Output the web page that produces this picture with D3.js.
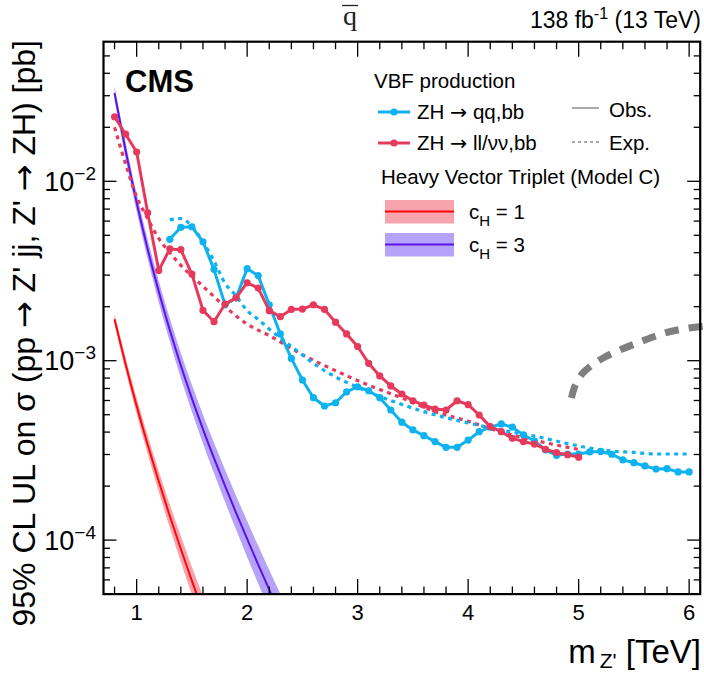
<!DOCTYPE html>
<html><head><meta charset="utf-8">
<script src="https://cdn.jsdelivr.net/npm/d3@7"></script>
<style>body{margin:0;background:#fff} svg{display:block}</style>
</head><body>
<svg id="c" width="704" height="675"></svg>
<script>
// ---- data ----
const massQQ = [1.3,1.4,1.5,1.6,1.7,1.8,1.9,2.0,2.1,2.2,2.3,2.4,2.5,2.6,2.7,2.8,2.9,3.0,3.1,3.2,3.3,3.4,3.5,3.6,3.7,3.8,3.9,4.0,4.1,4.2,4.3,4.4,4.5,4.6,4.7,4.8,4.9,5.0,5.1,5.2,5.3,5.4,5.5,5.6,5.7,5.8,5.9,6.0];
const obsQQ = [0.00475,0.00554,0.00558,0.00460,0.00323,0.00205,0.00224,0.00326,0.00298,0.00205,0.00141,0.00103,0.00078,0.000622,0.000559,0.000583,0.000671,0.000716,0.000680,0.000622,0.000531,0.000454,0.000411,0.000382,0.000354,0.000329,0.000329,0.000361,0.000402,0.000426,0.000444,0.000426,0.000386,0.000357,0.000318,0.000297,0.000302,0.000302,0.000310,0.000312,0.000301,0.000280,0.000270,0.000259,0.000249,0.000250,0.000240,0.000240];
const massLL = [0.8,0.9,1.0,1.1,1.2,1.3,1.4,1.5,1.6,1.7,1.8,1.9,2.0,2.1,2.2,2.3,2.4,2.5,2.6,2.7,2.8,2.9,3.0,3.1,3.2,3.3,3.4,3.5,3.6,3.7,3.8,3.9,4.0,4.1,4.2,4.3,4.4,4.5,4.6,4.7,4.8,4.9,5.0];
const obsLL = [0.0229,0.0183,0.01456,0.00668,0.00318,0.00420,0.00416,0.00304,0.00191,0.00165,0.00207,0.00224,0.00272,0.00254,0.00190,0.00176,0.00193,0.00194,0.00205,0.00193,0.00164,0.00141,0.00120,0.000967,0.000822,0.000723,0.000652,0.000598,0.000566,0.000538,0.000531,0.000598,0.000569,0.000498,0.000429,0.000402,0.000369,0.000354,0.000343,0.000321,0.000307,0.000299,0.000290];
const expQQMass = [1.3,1.4,1.5,1.6,1.7,1.8,1.9,2.0,2.1,2.2,2.4,2.7,3.0,3.3,3.6,4.0,4.3,4.6,4.9,5.2,5.5,5.7,6.0];
const expQQ = [0.0061,0.0062,0.0056,0.0046,0.0036,0.0027,0.0023,0.0019,0.0017,0.00150,0.00120,0.00088,0.00071,0.00060,0.00052,0.00045,0.00041,0.00038,0.000345,0.000318,0.000308,0.000302,0.000302];
const expLLMass = [0.8,0.9,1.0,1.1,1.2,1.3,1.4,1.6,1.8,2.0,2.2,2.5,2.8,3.1,3.4,3.7,4.0,4.3,4.6,5.0];
const expLL = [0.0200,0.0125,0.0082,0.0062,0.0048,0.0040,0.0034,0.0026,0.0020,0.0016,0.00138,0.00108,0.00088,0.00073,0.00062,0.00052,0.00046,0.00040,0.00036,0.00032];
const hvt3Mass = [0.8,0.9,1.0,1.1,1.2,1.3,1.4,1.5,1.6,1.7,1.8,1.9,2.0,2.1,2.2,2.3];
const hvt3 = [0.031,0.01484,0.00761,0.00418,0.002434,0.001484,0.00094,0.000617,0.000416,0.0002866,0.0002006,0.000142,0.0001015,7.3e-5,5.29e-5,3.85e-5];
const hvt3Hi = [0.03398,0.01646,0.00854,0.004744,0.002794,0.001723,0.001105,0.000734,0.0005,0.0003485,0.0002467,0.0001768,0.0001278,9.3e-5,6.81e-5,5.02e-5];
const hvt3Lo = [0.02828,0.01338,0.006783,0.003683,0.00212,0.001278,0.0008,0.000519,0.000346,0.0002357,0.0001631,0.0001141,8.06e-5,5.73e-5,4.11e-5,2.95e-5];
const hvt1Mass = [0.8,0.9,1.0,1.1,1.2,1.3,1.4,1.5,1.6,1.7];
const hvt1 = [1.70e-3,9.56e-4,5.60e-4,3.40e-4,2.126e-4,1.362e-4,8.92e-5,5.93e-5,4.0e-5,2.73e-5];
const hvt1Hi = [1.822e-3,1.041e-3,6.20e-4,3.825e-4,2.43e-4,1.581e-4,1.053e-4,7.11e-5,4.88e-5,3.38e-5];
const hvt1Lo = [1.586e-3,8.78e-4,5.06e-4,3.022e-4,1.86e-4,1.173e-4,7.56e-5,4.95e-5,3.28e-5,2.2e-5];
const arcMass = [4.935,4.967,5.030,5.121,5.238,5.374,5.555,5.736,5.917,6.134];
const arcVal = [6.195e-4,7.23e-4,8.43e-4,9.46e-4,1.049e-3,1.148e-3,1.271e-3,1.40e-3,1.493e-3,1.561e-3];
const xTicks = [1,2,3,4,5,6];
const xTickLabels = ["1","2","3","4","5","6"];
const yTicks = [1e-4,1e-3,1e-2];
const yTickExp = ["\u22124","\u22123","\u22122"];

// ---- layout ----
const FONT = "'Liberation Sans', Arial, Helvetica, sans-serif";
const ARROWF = "'DejaVu Sans', sans-serif";
const C = {blue:"#0db2ee", red:"#e63a5c", th1:"#ff0808", th1band:"#f8a4ae", th3:"#5a14e8", th3band:"#b6a2f8", gray:"#7f7f7f"};
const L = 103.5, R = 700.2, T = 41.7, B = 594.1;
const x = d3.scaleLinear().domain([0.7, 6.1]).range([L, R]);
const y = d3.scaleLog().domain([5e-5, 0.06]).range([B, T]);

const svg = d3.select("#c");
svg.append("defs").append("clipPath").attr("id","plot")
  .append("rect").attr("x",L).attr("y",T).attr("width",R-L).attr("height",B-T);
const g = svg.append("g").attr("clip-path","url(#plot)");

const zip = (ms, vs) => ms.map((m,i)=>[m, vs[i]]);
const smooth = d3.line().x(d=>x(d[0])).y(d=>y(d[1])).curve(d3.curveMonotoneX);
const area = d3.area().x(d=>x(d.m)).y0(d=>y(d.lo)).y1(d=>y(d.hi)).curve(d3.curveMonotoneX);

// theory bands + lines
g.append("path").datum(hvt1Mass.map((m,i)=>({m, lo:hvt1Lo[i], hi:hvt1Hi[i]})))
  .attr("d", area).attr("fill", C.th1band);
g.append("path").datum(hvt3Mass.map((m,i)=>({m, lo:hvt3Lo[i], hi:hvt3Hi[i]})))
  .attr("d", area).attr("fill", C.th3band);
g.append("path").datum(zip(hvt1Mass,hvt1)).attr("d", smooth)
  .attr("fill","none").attr("stroke",C.th1).attr("stroke-width",2);
g.append("path").datum(zip(hvt3Mass,hvt3)).attr("d", smooth)
  .attr("fill","none").attr("stroke",C.th3).attr("stroke-width",2);

// expected
g.append("path").datum(zip(expLLMass,expLL)).attr("d", smooth)
  .attr("fill","none").attr("stroke",C.red).attr("stroke-width",3.2).attr("stroke-dasharray","4,4.5");
g.append("path").datum(zip(expQQMass,expQQ)).attr("d", smooth)
  .attr("fill","none").attr("stroke",C.blue).attr("stroke-width",3.2).attr("stroke-dasharray","4,4.5");

// observed
const lineObs = d3.line().x(d=>x(d[0])).y(d=>y(d[1]));
function obs(ms, vs, col){
  const data = zip(ms, vs);
  g.append("path").datum(data).attr("d", lineObs)
    .attr("fill","none").attr("stroke",col).attr("stroke-width",3).attr("stroke-linejoin","round");
  g.selectAll(null).data(data).enter().append("circle")
    .attr("cx",d=>x(d[0])).attr("cy",d=>y(d[1])).attr("r",3.6).attr("fill",col);
}
obs(massQQ, obsQQ, C.blue);
obs(massLL, obsLL, C.red);

// gray dashed arc (extends beyond frame)
svg.append("path").datum(zip(arcMass, arcVal))
  .attr("d", d3.line().x(d=>x(d[0])).y(d=>y(d[1])).curve(d3.curveCatmullRom))
  .attr("fill","none").attr("stroke",C.gray).attr("stroke-width",7).attr("stroke-dasharray","14,10");

// ---- frame & ticks ----
const ax = svg.append("g").attr("stroke","#000").attr("fill","none");
const xMinor = d3.range(8, 61, 2).map(v=>v/10).filter(v=>Math.abs(v-Math.round(v))>1e-6);
const yMinor = [];
[-5,-4,-3,-2].forEach(e=>{ for(let k=2;k<=9;k++){ const v=k*Math.pow(10,e); if(v>5e-5-1e-12 && v<0.06) yMinor.push(v);} });
function hTicks(vals, len){
  vals.forEach(v=>{
    ax.append("line").attr("x1",x(v)).attr("x2",x(v)).attr("y1",B).attr("y2",B-len).attr("stroke-width",1.3);
    ax.append("line").attr("x1",x(v)).attr("x2",x(v)).attr("y1",T).attr("y2",T+len).attr("stroke-width",1.3);
  });
}
function vTicks(vals, len){
  vals.forEach(v=>{
    ax.append("line").attr("y1",y(v)).attr("y2",y(v)).attr("x1",L).attr("x2",L+len).attr("stroke-width",1.3);
    ax.append("line").attr("y1",y(v)).attr("y2",y(v)).attr("x1",R).attr("x2",R-len).attr("stroke-width",1.3);
  });
}
hTicks(xTicks, 15); hTicks(xMinor, 7.5);
vTicks(yTicks, 13); vTicks(yMinor, 6.5);
ax.append("rect").attr("x",L).attr("y",T).attr("width",R-L).attr("height",B-T).attr("stroke-width",2.2);

// tick labels
const tl = svg.append("g").attr("font-family",FONT).attr("fill","#000");
xTicks.forEach((v,i)=>{
  tl.append("text").attr("x",x(v)).attr("y",620).attr("text-anchor","middle").attr("font-size",22).text(xTickLabels[i]);
});
yTicks.forEach((v,i)=>{
  const t = tl.append("text").attr("x",96).attr("y",y(v)+9.5).attr("text-anchor","end").attr("font-size",27);
  t.append("tspan").text("10");
  t.append("tspan").attr("font-size",19).attr("dy",-11).text(yTickExp[i]);
});

// axis titles
const yt = svg.append("text").attr("font-family",FONT).attr("font-size",32)
  .attr("transform","translate(35,40) rotate(-90)").attr("text-anchor","end");
yt.append("tspan").text("95% CL UL on \u03C3 (pp ");
yt.append("tspan").attr("font-family",ARROWF).text("\u2192");
yt.append("tspan").text(" Z' jj, Z' ");
yt.append("tspan").attr("font-family",ARROWF).text("\u2192");
yt.append("tspan").text(" ZH) [pb]");
const xt = svg.append("text").attr("font-family",FONT).attr("font-size",33)
  .attr("x",701).attr("y",663).attr("text-anchor","end");
xt.append("tspan").text("m");
xt.append("tspan").attr("font-size",21).attr("dy",5).attr("dx",4).text("Z'");
xt.append("tspan").attr("dy",-5).text(" [TeV]");

// top texts
svg.append("text").attr("font-family",FONT).attr("font-weight","bold").attr("font-size",31)
  .attr("x",125).attr("y",92).text("CMS");
const lumi = svg.append("text").attr("font-family",FONT).attr("font-size",23)
  .attr("x",701).attr("y",28).attr("text-anchor","end");
lumi.append("tspan").text("138 fb");
lumi.append("tspan").attr("font-size",16).attr("dy",-9).text("-1");
lumi.append("tspan").attr("dy",9).text(" (13 TeV)");
svg.append("text").attr("font-family","'Liberation Serif','DejaVu Serif',serif").attr("font-size",28)
  .attr("x",350).attr("y",25).attr("text-anchor","middle").attr("fill","#222").text("q");
svg.append("line").attr("x1",342).attr("x2",358).attr("y1",5.5).attr("y2",5.5).attr("stroke","#222").attr("stroke-width",1.3);

// ---- legend ----
const lg = svg.append("g").attr("font-family",FONT).attr("font-size",20.5);
lg.append("text").attr("x",374).attr("y",88).text("VBF production");
[[112,C.blue,["ZH ","\u2192"," qq,bb"],119],[143,C.red,["ZH ","\u2192"," ll/\u03BD\u03BD,bb"],150]].forEach(([yy,col,txt,by])=>{
  lg.append("line").attr("x1",378).attr("x2",410).attr("y1",yy).attr("y2",yy).attr("stroke",col).attr("stroke-width",3);
  lg.append("circle").attr("cx",394).attr("cy",yy).attr("r",3.6).attr("fill",col);
  const t = lg.append("text").attr("x",417).attr("y",by);
  t.append("tspan").text(txt[0]);
  t.append("tspan").attr("font-family",ARROWF).text(txt[1]);
  t.append("tspan").text(txt[2]);
});
lg.append("line").attr("x1",572).attr("x2",599).attr("y1",108).attr("y2",108).attr("stroke","#aaa").attr("stroke-width",2);
lg.append("text").attr("x",609).attr("y",117).text("Obs.");
lg.append("line").attr("x1",572).attr("x2",599).attr("y1",142).attr("y2",142).attr("stroke","#aaa").attr("stroke-width",2).attr("stroke-dasharray","3,3");
lg.append("text").attr("x",609).attr("y",150).text("Exp.");
lg.append("text").attr("x",381).attr("y",184).text("Heavy Vector Triplet (Model C)");
[[200,C.th1band,C.th1,"1"],[233,C.th3band,C.th3,"3"]].forEach(([yy,bf,lc,v])=>{
  lg.append("rect").attr("x",385).attr("y",yy).attr("width",69).attr("height",23.5).attr("fill",bf);
  lg.append("line").attr("x1",385).attr("x2",454).attr("y1",yy+11.5).attr("y2",yy+11.5).attr("stroke",lc).attr("stroke-width",2);
  const t = lg.append("text").attr("x",469).attr("y",yy+18.5);
  t.append("tspan").text("c");
  t.append("tspan").attr("font-size",15).attr("dy",7).text("H");
  t.append("tspan").attr("dy",-7).text(" = " + v);
});
</script>
</body></html>
